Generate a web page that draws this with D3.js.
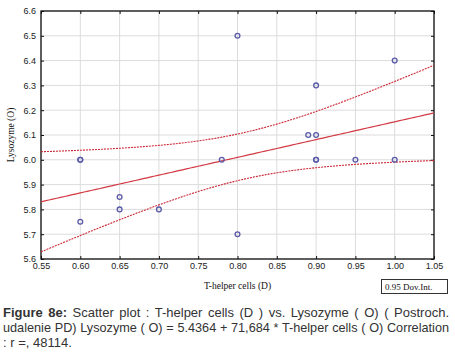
<!DOCTYPE html>
<html>
    <head>
        <meta charset="UTF-8">
        <title>Figure 8e</title>
        <style>
            body {margin:0; background:#fff;}
            svg {position:absolute; left:0; top:0;}
            .tick text {font-family:"Liberation Sans", Arial, sans-serif; font-size:9px; fill:#1a1a1a;}
            .grid line {stroke:#dcdcdc; stroke-width:1px;}
            .frame {fill:none; stroke:#111; stroke-width:1.3px;}
            .ttl {font-family:"Liberation Serif", "Times New Roman", serif; font-size:9.5px; fill:#111;}
            .cap {font-family:"Liberation Sans", Arial, sans-serif; font-size:13px; fill:#333;}
        </style>
        <script src="https://cdn.jsdelivr.net/npm/d3@7"></script>
    </head>
    <body>
        <svg width="455" height="354"></svg>

        <script>
            // values
            var helperX = [0.60, 0.60, 0.60, 0.65, 0.65, 0.70, 0.78, 0.80, 0.80, 0.89, 0.90, 0.90, 0.90, 0.90, 0.95, 1.00, 1.00];
            var lysozymeY = [6.00, 6.00, 5.75, 5.85, 5.80, 5.80, 6.00, 6.50, 5.70, 6.10, 6.10, 6.30, 6.00, 6.00, 6.00, 6.40, 6.00];
            var xTicks = [0.55, 0.60, 0.65, 0.70, 0.75, 0.80, 0.85, 0.90, 0.95, 1.00, 1.05];
            var yTicks = [5.6, 5.7, 5.8, 5.9, 6.0, 6.1, 6.2, 6.3, 6.4, 6.5, 6.6];
            // fitted line and 0.95 band (centre, variance terms)
            var fit = [5.4364, 0.71684];
            var band = [0.808, 0.0088, 0.48];
            var captionLines = [
                ["Figure 8e:", " Scatter plot : T-helper cells (D ) vs. Lysozyme ( O) ( Postroch."],
                ["", "udalenie PD) Lysozyme ( O) = 5.4364 + 71,684 * T-helper cells ( O) Correlation"],
                ["", ": r =, 48114."]
            ];

            var svg = d3.select("svg");
            var pL = 41, pR = 434, pT = 11, pB = 259;

            var x = d3.scaleLinear().domain([0.55, 1.05]).range([pL, pR]);
            var y = d3.scaleLinear().domain([5.6, 6.6]).range([pB, pT]);

            //... grid
            var grid = svg.append("g").attr("class", "grid");
            grid.selectAll(".gx").data(xTicks).enter().append("line")
                .attr("x1", d => x(d)).attr("x2", d => x(d))
                .attr("y1", pT).attr("y2", pB);
            grid.selectAll(".gy").data(yTicks).enter().append("line")
                .attr("y1", d => y(d)).attr("y2", d => y(d))
                .attr("x1", pL).attr("x2", pR);

            //... axes, ticks pointing inward
            svg.append("g").attr("transform", "translate(0," + pB + ")")
                .call(d3.axisBottom(x).tickValues(xTicks).tickFormat(d3.format(".2f")).tickSize(-3).tickPadding(4));
            svg.append("g").attr("transform", "translate(" + pL + ",0)")
                .call(d3.axisLeft(y).tickValues(yTicks).tickFormat(d3.format(".1f")).tickSize(-3).tickPadding(5));
            svg.append("g").attr("transform", "translate(0," + pT + ")")
                .call(d3.axisTop(x).tickValues(xTicks).tickFormat("").tickSize(-3));
            svg.append("g").attr("transform", "translate(" + pR + ",0)")
                .call(d3.axisRight(y).tickValues(yTicks).tickFormat("").tickSize(-3));
            svg.selectAll(".domain").remove();
            svg.selectAll(".tick line").attr("stroke", "#111");

            svg.append("rect").attr("class", "frame")
                .attr("x", pL).attr("y", pT)
                .attr("width", pR - pL).attr("height", pB - pT);

            //... regression + confidence band
            var xs = d3.range(0.55, 1.0501, 0.005);
            var yhat = v => fit[0] + fit[1] * v;
            var hw = v => Math.sqrt(band[1] + band[2] * (v - band[0]) * (v - band[0]));
            var line = d3.line().x(d => x(d[0])).y(d => y(d[1]));

            svg.append("path").attr("d", line(xs.map(v => [v, yhat(v)])))
                .attr("fill", "none").attr("stroke", "#d23a44").attr("stroke-width", 1.2);
            [1, -1].forEach(function(s) {
                svg.append("path").attr("d", line(xs.map(v => [v, yhat(v) + s * hw(v)])))
                    .attr("fill", "none").attr("stroke", "#cc2a38").attr("stroke-width", 1.1)
                    .attr("stroke-dasharray", "2,1");
            });

            //... points
            svg.append("g").selectAll("circle")
                .data(helperX.map((v, i) => [v, lysozymeY[i]]))
                .enter().append("circle")
                .attr("cx", d => x(d[0])).attr("cy", d => y(d[1]))
                .attr("r", 2.4)
                .attr("fill", "none")
                .attr("stroke", "#5a5aaa").attr("stroke-width", 1.3);

            //... titles
            svg.append("text").attr("class", "ttl")
                .attr("transform", "translate(14," + ((pT + pB) / 2) + ") rotate(-90)")
                .attr("text-anchor", "middle").text("Lysozyme (O)");
            svg.append("text").attr("class", "ttl")
                .attr("x", (pL + pR) / 2).attr("y", 289)
                .attr("text-anchor", "middle").text("T-helper cells (D)");

            //... legend box
            svg.append("rect").attr("x", 381.5).attr("y", 279.5).attr("width", 66).attr("height", 14)
                .attr("fill", "#fff").attr("stroke", "#333").attr("stroke-width", 1);
            svg.append("text").attr("class", "ttl").attr("x", 385).attr("y", 290)
                .style("font-size", "9px").text("0.95 Dov.Int.");

            //... caption, first two lines justified to the full width
            var capW = 446;
            captionLines.forEach(function(parts, i) {
                var t = svg.append("text").attr("class", "cap")
                    .attr("x", 3).attr("y", 317 + i * 15);
                if (parts[0]) t.append("tspan").style("font-weight", "bold").text(parts[0]);
                t.append("tspan").text(parts[1]);
                if (i < 2) {
                    var w = t.node().getComputedTextLength();
                    var fs = 13;
                    while (w > capW && fs > 10) {
                        fs -= 0.1;
                        t.style("font-size", fs + "px");
                        w = t.node().getComputedTextLength();
                    }
                    var gaps = (parts[0] + parts[1]).split(" ").length - 1;
                    t.attr("word-spacing", ((capW - w) / gaps) + "px");
                }
            });
        </script>
    </body>
</html>
